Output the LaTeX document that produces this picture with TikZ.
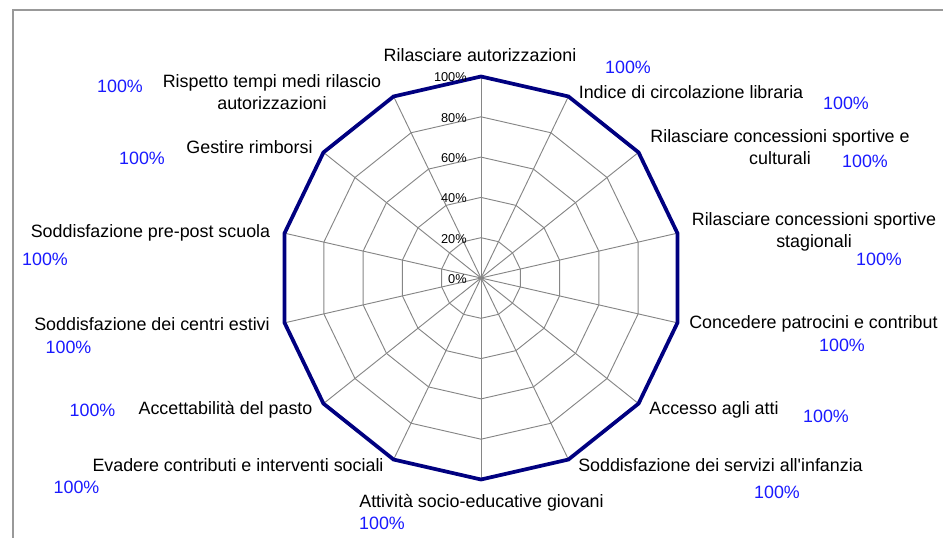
\documentclass[tikz,border=0pt]{standalone}
\usepackage{fontspec}
\setmainfont{Liberation Sans}
\definecolor{gridgray}{RGB}{134,134,134}
\definecolor{framegray}{RGB}{153,153,153}
\definecolor{navyline}{RGB}{0,0,128}
\definecolor{valblue}{RGB}{25,25,255}
\begin{document}
\begin{tikzpicture}[x=0.75pt,y=-0.75pt,
  lbl/.style={font=\fontsize{13.4}{16.9}\selectfont, align=center, inner sep=0pt, text=black},
  val/.style={font=\fontsize{13.4}{16}\selectfont, text=valblue, inner sep=0pt},
  tick/.style={font=\fontsize{9.6}{11}\selectfont, anchor=east, inner sep=0pt},
  gridline/.style={draw=gridgray, line width=0.7pt},
  dataline/.style={draw=navyline, line width=2.8pt, line join=miter},
  framedge/.style={draw=framegray, line width=1.5pt}]
\useasboundingbox (0,0) rectangle (943,538);
% frame
\coordinate (f1) at (13,538);
\coordinate (f2) at (13,10);
\coordinate (f3) at (943,10);
\draw[framedge] (f1) -- (f2) -- (f3);
% center and vertices
\coordinate (C) at (481,278);
\foreach \i in {0,...,13}{
  \foreach \k in {1,...,5}{
    \coordinate (v\i-\k) at ([shift={(-90+\i*360/14:\k*40.3)}]C);
  }
}
% rings
\foreach \k in {1,...,4}{
  \draw[gridline] (v0-\k) \foreach \i in {1,...,13}{ -- (v\i-\k)} -- cycle;
}
% spokes
\foreach \i in {0,...,13}{
  \draw[gridline] (C) -- (v\i-5);
}
% data
\draw[dataline] (v0-5) \foreach \i in {1,...,13}{ -- (v\i-5)} -- cycle;
% tick labels
\node[tick] (t0) at (467,279) {0\%};
\node[tick] (t1) at (467,239) {20\%};
\node[tick] (t2) at (467,198.5) {40\%};
\node[tick] (t3) at (467,158) {60\%};
\node[tick] (t4) at (467,118) {80\%};
\node[tick] (t5) at (467,77.5) {100\%};
% category labels
\node[lbl] (l0) at (480,55) {Rilasciare autorizzazioni};
\node[lbl] (l1) at (691,92) {Indice di circolazione libraria};
\node[lbl] (l2) at (780,147) {Rilasciare concessioni sportive e\\culturali};
\node[lbl] (l3) at (814,232) {Rilasciare concessioni sportive\\stagionali};
\node[lbl, anchor=west] (l4) at (689,324) {Concedere patrocini e contribut};
\node[lbl] (l5) at (714,410) {Accesso agli atti};
\node[lbl] (l6) at (720.5,465) {Soddisfazione dei servizi all\textquotesingle infanzia};
\node[lbl] (l7) at (481.5,503) {Attività socio-educative giovani};
\node[lbl] (l8) at (238,465) {Evadere contributi e interventi sociali};
\node[lbl] (l9) at (225.5,410) {Accettabilità del pasto};
\node[lbl] (l10) at (152,324) {Soddisfazione dei centri estivi};
\node[lbl] (l11) at (150.5,233) {Soddisfazione pre-post scuola};
\node[lbl] (l12) at (249.5,147) {Gestire rimborsi};
\node[lbl] (l13) at (272,92) {Rispetto tempi medi rilascio\\autorizzazioni};
% value labels
\node[val] (p0) at (628,67) {100\%};
\node[val] (p1) at (846,103) {100\%};
\node[val] (p2) at (865,161) {100\%};
\node[val] (p3) at (879,259) {100\%};
\node[val] (p4) at (842,345) {100\%};
\node[val] (p5) at (826,416) {100\%};
\node[val] (p6) at (777,492) {100\%};
\node[val] (p7) at (382,523) {100\%};
\node[val] (p8) at (76.5,487) {100\%};
\node[val] (p9) at (92.5,410) {100\%};
\node[val] (p10) at (68.5,347) {100\%};
\node[val] (p11) at (45,259) {100\%};
\node[val] (p12) at (142,158) {100\%};
\node[val] (p13) at (120,86) {100\%};
\end{tikzpicture}
\end{document}
